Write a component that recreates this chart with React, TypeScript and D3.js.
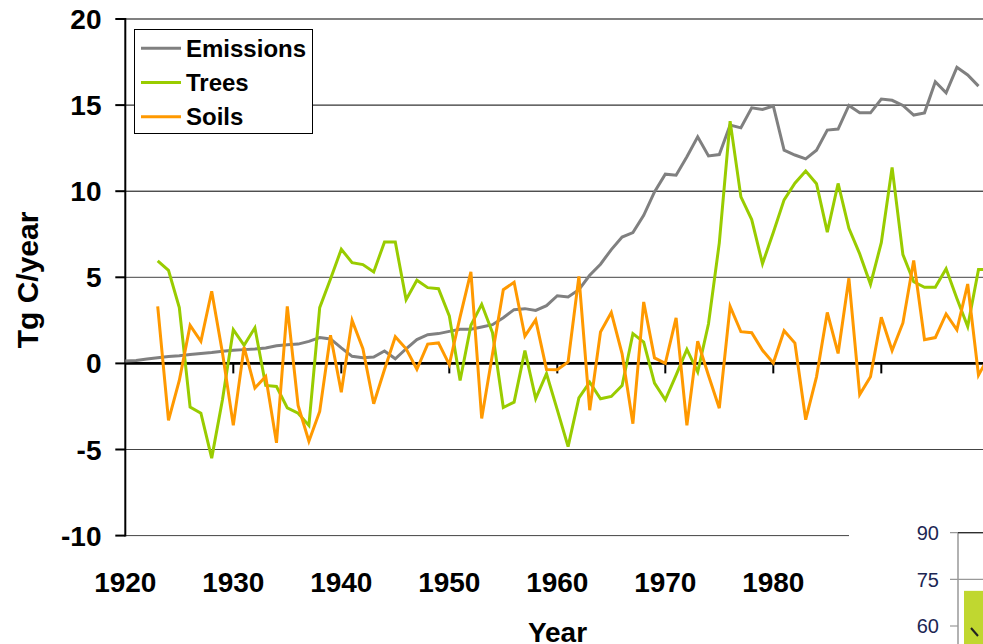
import React from 'react';
import * as d3 from 'd3';

const EMISSIONS_START = 1920;
const emissions = [
  0.14, 0.17, 0.25, 0.33, 0.4, 0.45, 0.52, 0.58, 0.63, 0.7,
  0.76, 0.8, 0.83, 0.9, 1.02, 1.08, 1.12, 1.28, 1.5, 1.42,
  0.9, 0.41, 0.33, 0.37, 0.72, 0.27, 0.85, 1.38, 1.67, 1.73,
  1.86, 1.98, 1.98, 2.11, 2.25, 2.65, 3.12, 3.18, 3.08, 3.35,
  3.93, 3.86, 4.28, 5.12, 5.76, 6.61, 7.34, 7.6, 8.6, 9.96,
  10.99, 10.93, 12.0, 13.16, 12.05, 12.13, 13.84, 13.68, 14.84, 14.75,
  14.95, 12.38, 12.1, 11.88, 12.38, 13.55, 13.61, 14.98, 14.55, 14.55,
  15.35, 15.28, 14.98, 14.42, 14.55, 16.36, 15.71, 17.19, 16.75, 16.1,
];

const TREES_START = 1923;
const trees = [
  5.95, 5.4, 3.24, -2.54, -2.89, -5.5, -2.1,
  1.96, 1.05, 2.07, -1.28, -1.34, -2.58, -2.89, -3.6, 3.24, 4.9,
  6.63, 5.85, 5.74, 5.31, 7.05, 7.05, 3.7, 4.83, 4.4, 4.34,
  2.76, -0.99, 2.21, 3.43, 1.78, -2.56, -2.25, 0.74, -2.05, -0.6,
  -2.7, -4.83, -2.0, -1.09, -2.05, -1.92, -1.28, 1.73, 1.24, -1.14,
  -2.11, -0.68, 0.81, -0.5, 2.3, 7.0, 14.07, 9.67, 8.35, 5.79,
  7.6, 9.5, 10.46, 11.17, 10.43, 7.62, 10.45, 7.84, 6.36, 4.59,
  7.01, 11.38, 6.32, 4.74, 4.42, 4.42, 5.5, 3.77, 2.14, 5.45,
  5.45,
];

const SOILS_START = 1923;
const soils = [
  3.31, -3.31, -0.99, 2.21, 1.28, 4.19, 0.6,
  -3.6, 0.95, -1.43, -0.76, -4.61, 3.31, -2.44, -4.52, -2.79, 1.63,
  -1.67, 2.5, 0.85, -2.34, -0.35, 1.55, 0.85, -0.34, 1.12, 1.19,
  -0.07, 2.7, 5.31, -3.2, 0.55, 4.28, 4.71, 1.58, 2.53, -0.35,
  -0.37, 0.08, 5.05, -2.72, 1.82, 2.95, 0.56, -3.5, 3.57, 0.32,
  0.0, 2.64, -3.6, 1.29, -0.7, -2.6, 3.31, 1.84, 1.78, 0.76,
  0.02, 1.9, 1.18, -3.27, -0.78, 2.96, 0.58, 4.94, -1.81, -0.77,
  2.68, 0.75, 2.35, 5.98, 1.37, 1.5, 2.87, 1.95, 4.61, -0.68,
  0.45,
];

const seriesNames = ['Emissions', 'Trees', 'Soils'];
const seriesColors = ['#808080', '#99CC00', '#FF9900'];
const yTicks = [20, 15, 10, 5, 0, -5, -10];
const xTicks = [1920, 1930, 1940, 1950, 1960, 1970, 1980, 1990];

// partial inset chart at the lower right
const insetTicks = [90, 75, 60];
const insetBarValue = 71.3;

const W = 983;
const H = 644;

export default function App() {
  const x = d3.scaleLinear().domain([1920, 2000]).range([125.3, 989.3]);
  const y = d3.scaleLinear().domain([-10, 20]).range([535.6, 19]);

  const toPts = (start: number, vals: number[]) =>
    vals.map((v, i) => [start + i, v] as [number, number]);
  const line = d3
    .line<[number, number]>()
    .x((d) => x(d[0]))
    .y((d) => y(d[1]));

  const series = [
    toPts(EMISSIONS_START, emissions),
    toPts(TREES_START, trees),
    toPts(SOILS_START, soils),
  ];

  const iy = d3.scaleLinear().domain([60, 90]).range([626, 532.7]);
  const insetAxisX = 958;

  const font = '"Liberation Sans", Arial, sans-serif';

  return (
    <svg
      width={W}
      height={H}
      style={{ position: 'absolute', left: 0, top: 0, display: 'block', background: '#fff' }}
      fontFamily={font}
    >
      <rect x={0} y={0} width={W} height={H} fill="#fff" />
      {/* gridlines */}
      {yTicks
        .filter((t) => t !== 0)
        .map((t) => (
          <line
            key={'g' + t}
            x1={x(1920)}
            x2={W}
            y1={y(t)}
            y2={y(t)}
            stroke={t === 20 ? '#808080' : t > 5 ? '#000' : '#444'}
            strokeWidth={t === 20 ? 2 : 1}
          />
        ))}
      {/* y axis */}
      <line x1={x(1920)} x2={x(1920)} y1={y(20) - 1} y2={y(-10) + 1} stroke="#000" strokeWidth={2} />
      {yTicks.map((t) => (
        <g key={'yt' + t}>
          <line x1={x(1920) - 10} x2={x(1920)} y1={y(t)} y2={y(t)} stroke="#000" strokeWidth={2} />
          <text
            x={101.5}
            y={y(t) + 10}
            textAnchor="end"
            fontSize={28}
            fontWeight="bold"
            fill="#000"
          >
            {t}
          </text>
        </g>
      ))}
      {/* zero axis */}
      <line x1={x(1920)} x2={W} y1={y(0)} y2={y(0)} stroke="#000" strokeWidth={2.6} />
      {xTicks.map((t) => (
        <g key={'xt' + t}>
          {t !== 1920 && (
            <line x1={x(t)} x2={x(t)} y1={y(0)} y2={y(0) + 10} stroke="#000" strokeWidth={2} />
          )}
          <text x={x(t)} y={591.5} textAnchor="middle" fontSize={28} fontWeight="bold" fill="#000">
            {t}
          </text>
        </g>
      ))}
      {/* series */}
      {series.map((pts, i) => (
        <path
          key={seriesNames[i]}
          d={line(pts) || ''}
          fill="none"
          stroke={seriesColors[i]}
          strokeWidth={3}
          strokeLinejoin="miter"
        />
      ))}
      {/* legend */}
      <rect x={134.5} y={29.5} width={178} height={104} fill="#fff" stroke="#000" strokeWidth={1} />
      {seriesNames.map((n, i) => (
        <g key={'lg' + n}>
          <line
            x1={141}
            x2={181}
            y1={48.3 + i * 34.2}
            y2={48.3 + i * 34.2}
            stroke={seriesColors[i]}
            strokeWidth={3}
          />
          <text x={186} y={56.7 + i * 34.2} fontSize={24} fontWeight="bold" fill="#000">
            {n}
          </text>
        </g>
      ))}
      {/* axis titles */}
      <text
        transform={`translate(38, 280) rotate(-90)`}
        textAnchor="middle"
        fontSize={30}
        fontWeight="bold"
        fill="#000"
      >
        Tg C/year
      </text>
      <text x={557.5} y={642} textAnchor="middle" fontSize={28} fontWeight="bold" fill="#000">
        Year
      </text>
      {/* inset chart */}
      <rect x={849} y={515} width={W - 849} height={H - 515} fill="#fff" />
      <rect
        x={964}
        y={iy(insetBarValue)}
        width={W - 964}
        height={H - iy(insetBarValue)}
        fill="#C0D730"
      />
      <line x1={971} y1={628} x2={978} y2={636} stroke="#222" strokeWidth={2} />
      <line x1={insetAxisX} x2={insetAxisX} y1={iy(90)} y2={H} stroke="#999" strokeWidth={1.5} />
      {insetTicks.map((t) => (
        <g key={'it' + t}>
          <line
            x1={950}
            x2={t === 60 ? insetAxisX : W}
            y1={iy(t)}
            y2={iy(t)}
            stroke="#999"
            strokeWidth={1.2}
          />
          {t === 90 && (
            <line x1={insetAxisX} x2={W} y1={iy(t)} y2={iy(t)} stroke="#222" strokeWidth={1.2} />
          )}
          <text x={939} y={iy(t) + 7.3} textAnchor="end" fontSize={20} fill="#1c2653">
            {t}
          </text>
        </g>
      ))}
    </svg>
  );
}
